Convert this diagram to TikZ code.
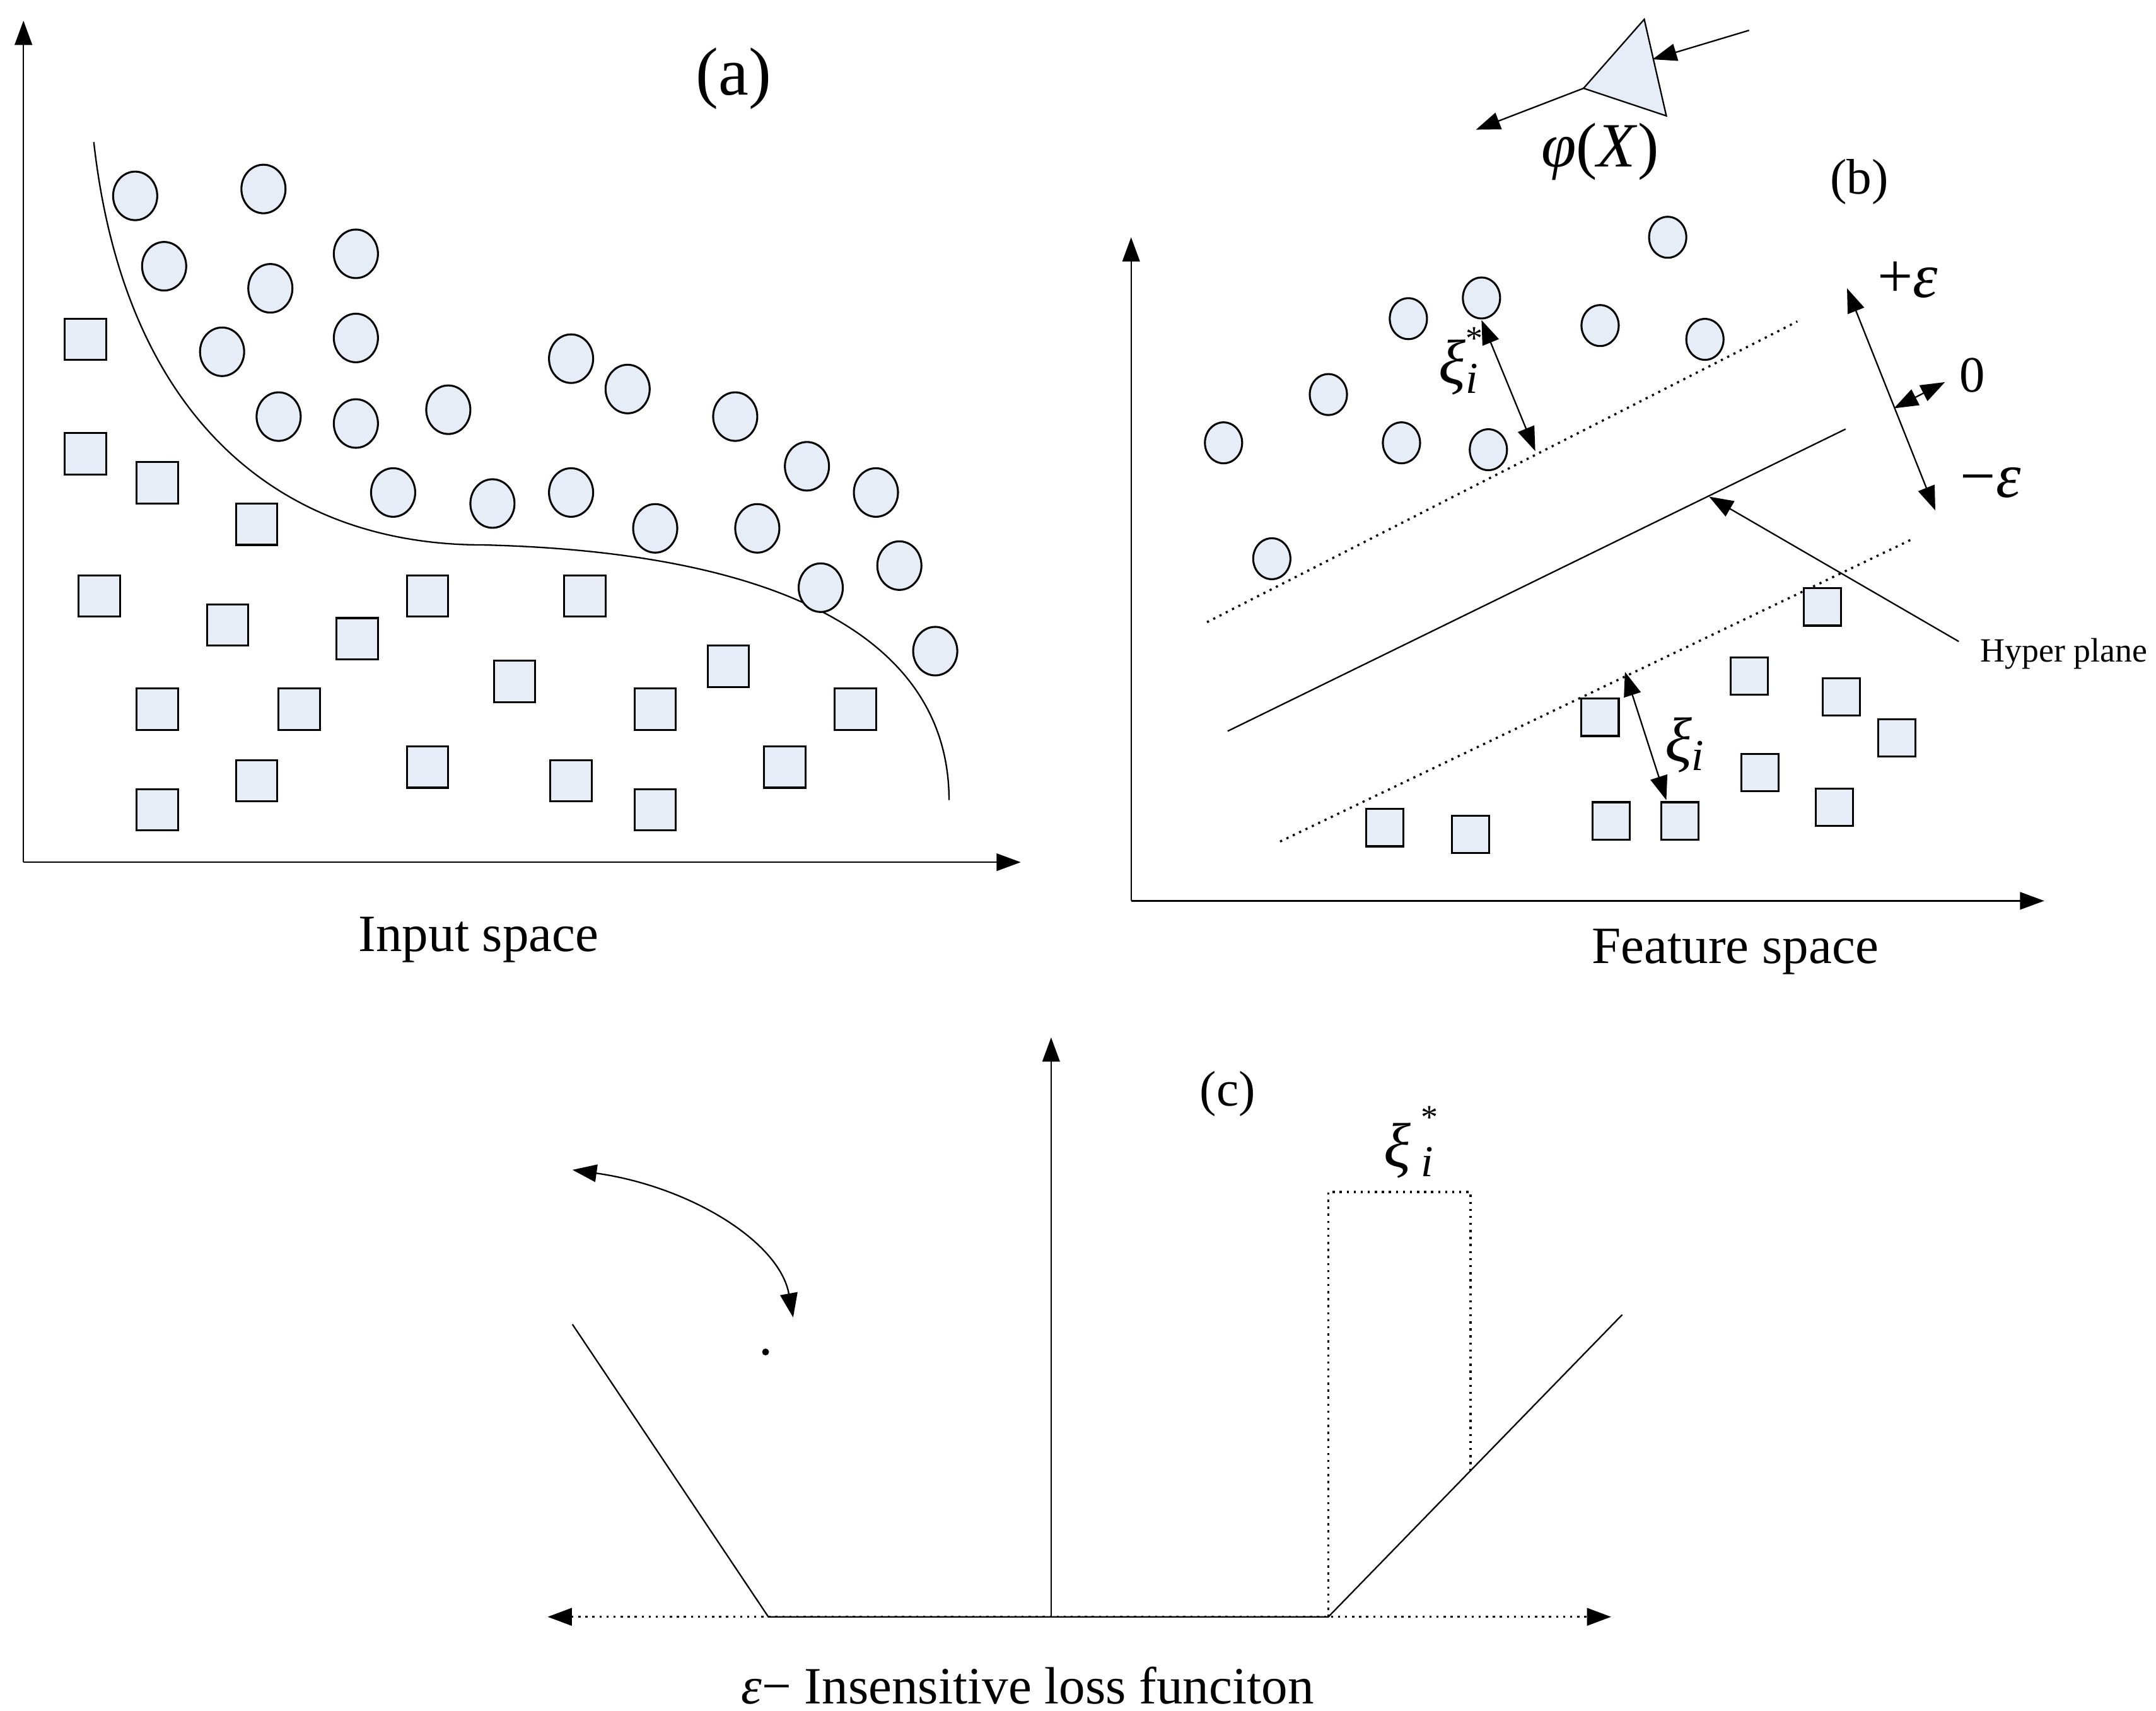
\documentclass[tikz,border=0pt]{standalone}
\usepackage{fontspec}
\setmainfont{Liberation Serif}
\usetikzlibrary{arrows.meta}
\definecolor{pt}{HTML}{E6EDF7}
\newcommand{\gi}[1]{\textit{#1}}
\newcommand{\subi}{\textsubscript{\textit{i}}}
\begin{document}
\begin{tikzpicture}[x=0.01cm,y=-0.01cm,
  ar/.style={-{Triangle[length=5pt,width=3.6pt]}},
  dar/.style={{Triangle[length=5pt,width=3.6pt]}-{Triangle[length=5pt,width=3.6pt]}},
  sq/.style={draw,fill=pt,rectangle,minimum size=30*0.01cm,inner sep=0pt},
  lab/.style={font=\fontsize{10.3}{12}\selectfont,inner sep=0pt},
  big/.style={font=\fontsize{13}{15}\selectfont,inner sep=0pt},
  thin/.style={line width=0.3pt},
  dot/.style={densely dotted,line width=0.45pt}]
\useasboundingbox (0,0) rectangle (1563,1240);
% ---------- panel (a)
\coordinate (aO) at (17,625);
\coordinate (aY) at (17,15);
\coordinate (aX) at (740,625);
\draw[ar,thin] (aO) -- (aY);
\draw[ar,thin] (aO) -- (aX);
\draw[thin] (68,103) .. controls (90,300) and (200,395) .. (350,395)
  .. controls (560,400) and (688,460) .. (688,580);
\foreach \p [count=\i] in {(98,142),(191,137),(119,193),(196,209),(258,184),(258,245),(161,255),(202,302),(258,307),(325,297),(414,260),(455,282),(533,302),(585,338),(635,357),(285,357),(357,365),(414,357),(475,383),(549,383),(652,410),(595,426),(678,472)}
  \node[circle,draw,fill=pt,minimum size=32*0.01cm,inner sep=0pt,yscale=1.1] (ac\i) at \p {};
\foreach \p [count=\i] in {(62,246),(62,329),(114,350),(186,380),(72,432),(165,453),(259,463),(310,432),(424,432),(373,494),(114,514),(217,514),(475,514),(528,483),(620,514),(114,587),(186,566),(310,556),(414,566),(475,587),(569,556)}
  \node[sq] (as\i) at \p {};
\node[big,font=\fontsize{14}{16}\selectfont] (la) at (532,57) {(a)};
\node[lab,font=\fontsize{10.8}{12}\selectfont] (lin) at (347,681) {Input space};
% ---------- triangle
\draw[thin,fill=pt] (1192,14) -- (1208,84) -- (1148,64) -- cycle;
\coordinate (tin) at (1268,22);
\coordinate (tinE) at (1198,43);
\coordinate (tl) at (1148,64);
\coordinate (tout) at (1070,94);
\draw[ar,thin] (tin) -- (tinE);
\draw[ar,thin] (tl) -- (tout);
\node[big] (phi) at (1160,110) {\gi{φ}(\gi{X})};
% ---------- panel (b)
\coordinate (bO) at (820,653);
\coordinate (bY) at (820,172);
\coordinate (bX) at (1482,653);
\draw[ar,thin] (bO) -- (bY);
\draw[ar,thin] (bO) -- (bX);
\draw[dot] (875,451) -- (1303,233);
\draw[thin] (890,530) -- (1338,311);
\draw[dot] (928,610) -- (1388,390);
\foreach \p [count=\i] in {(887,321),(922,405),(963,286),(1016,321),(1021,231),(1074,216),(1079,326),(1160,236),(1209,172),(1236,246)}
  \node[circle,draw,fill=pt,minimum size=27*0.01cm,inner sep=0pt,yscale=1.1] (bc\i) at \p {};
\foreach \p [count=\i] in {(1004,600),(1066,605),(1160,520),(1168,595),(1218,595),(1276,560),(1268,490),(1321,440),(1335,505),(1375,535),(1330,585)}
  \node[sq,minimum size=27*0.01cm] (bs\i) at \p {};
\coordinate (x1a) at (1074,232); \coordinate (x1b) at (1113,327);
\draw[dar,thin] (x1a) -- (x1b);
\node[big] (lx1) at (1058,262) {\gi{ξ}\makebox[0pt][l]{\raisebox{7pt}{\scriptsize *}}\subi};
\coordinate (x2a) at (1178,487); \coordinate (x2b) at (1208,580);
\draw[dar,thin] (x2a) -- (x2b);
\node[big] (lx2) at (1222,540) {\gi{ξ}\subi};
\coordinate (ea) at (1339,209); \coordinate (eb) at (1403,370);
\draw[dar,thin] (ea) -- (eb);
\coordinate (za) at (1373,296); \coordinate (zb) at (1410,277);
\draw[dar,thin] (za) -- (zb);
\node[big] (lpe) at (1383,203) {+\gi{ε}};
\node[lab,font=\fontsize{10.5}{13}\selectfont] (lz) at (1430,272) {0};
\node[big] (lme) at (1443,350) {−\gi{ε}};
\node[lab,font=\fontsize{7}{9}\selectfont,anchor=west] (hp) at (1435,474) {Hyper plane};
\coordinate (hpa) at (1420,465);
\coordinate (hpb) at (1239,360);
\draw[ar,thin] (hpa) -- (hpb);
\node[lab] (lb) at (1348,132) {(b)};
\node[lab,font=\fontsize{10.8}{12}\selectfont] (lfs) at (1258,690) {Feature space};
% ---------- panel (c)
\coordinate (cO) at (762,1172);
\coordinate (cY) at (762,752);
\draw[ar,thin] (cO) -- (cY);
\coordinate (cl) at (397,1172);
\coordinate (cr) at (1168,1172);
\draw[dar,dot] (cl) -- (cr);
\coordinate (c1) at (557,1172);
\coordinate (c2) at (963,1172);
\draw[thin] (415,960) -- (c1) -- (c2) -- (1176,953);
\draw[dot] (963,1172) -- (963,864) -- (1066,864) -- (1066,1066);
\node[big] (lx3) at (1022,828) {\gi{ξ}\,\makebox[0pt][l]{\raisebox{8pt}{\scriptsize *}}\subi};
\node[lab] (lc) at (890,793) {(c)};
\coordinate (ca) at (415,848);
\coordinate (cb) at (575,955);
\draw[dar,thin] (ca) .. controls (500,860) and (565,900) .. (cb);
\fill (555,980) circle (2.5);
\node[lab,font=\fontsize{10.8}{12}\selectfont] (lloss) at (745,1222) {\gi{ε}− Insensitive loss funciton};
\end{tikzpicture}
\end{document}
